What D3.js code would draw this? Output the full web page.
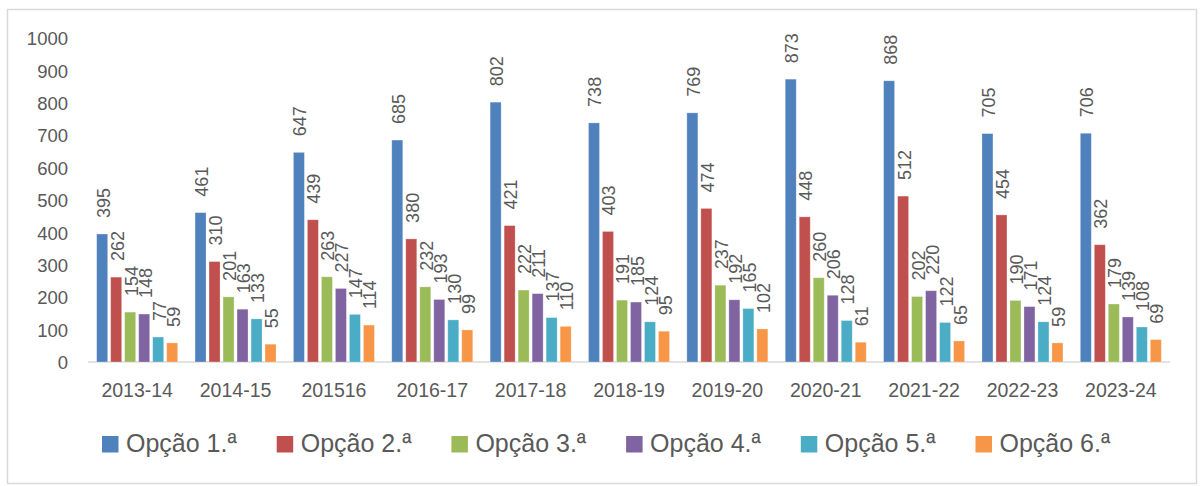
<!DOCTYPE html>
<html>
<head>
<meta charset="utf-8">
<script src="https://cdn.jsdelivr.net/npm/d3@7"></script>
<style>
  html, body { margin: 0; padding: 0; background: #fff; }
  svg { display: block; }
  text { font-family: "Liberation Sans", Arial, sans-serif; fill: #595959; }
</style>
</head>
<body>
<svg id="chart" width="1200" height="486"></svg>
<script>
const categories = ["2013-14", "2014-15", "201516", "2016-17", "2017-18", "2018-19", "2019-20", "2020-21", "2021-22", "2022-23", "2023-24"];
const seriesNames = ["Opção 1.ª", "Opção 2.ª", "Opção 3.ª", "Opção 4.ª", "Opção 5.ª", "Opção 6.ª"];
const opcao1 = [395, 461, 647, 685, 802, 738, 769, 873, 868, 705, 706];
const opcao2 = [262, 310, 439, 380, 421, 403, 474, 448, 512, 454, 362];
const opcao3 = [154, 201, 263, 232, 222, 191, 237, 260, 202, 190, 179];
const opcao4 = [148, 163, 227, 193, 211, 185, 192, 206, 220, 171, 139];
const opcao5 = [77, 133, 147, 130, 137, 124, 165, 128, 122, 124, 108];
const opcao6 = [59, 55, 114, 99, 110, 95, 102, 61, 65, 59, 69];
const yTicks = [0, 100, 200, 300, 400, 500, 600, 700, 800, 900, 1000];
const colors = ["#4F81BD", "#C0504D", "#9BBB59", "#8064A2", "#4BACC6", "#F79646"];

const seriesValues = [opcao1, opcao2, opcao3, opcao4, opcao5, opcao6];

const svg = d3.select("#chart");

// outer border
svg.append("rect")
  .attr("x", 7.5).attr("y", 9.5)
  .attr("width", 1189).attr("height", 474)
  .attr("fill", "#fff")
  .attr("stroke", "#D9D9D9").attr("stroke-width", 1.5);

const y = d3.scaleLinear().domain([0, 1000]).range([362, 38]);
const x0 = d3.scaleBand().domain(categories).range([88, 1170])
  .paddingInner(0.146).paddingOuter(0.073);
const x1 = d3.scaleBand().domain(seriesNames).range([0, x0.bandwidth()])
  .paddingInner(0.214).paddingOuter(0.107);
const color = d3.scaleOrdinal().domain(seriesNames).range(colors);

// y axis labels
const yAxis = d3.axisLeft(y).tickValues(yTicks).tickFormat(d3.format("d")).tickSize(0).tickPadding(0);
const gy = svg.append("g").attr("transform", "translate(68,0)").call(yAxis);
gy.select(".domain").remove();
gy.selectAll("text")
  .attr("font-size", 18.5)
  .attr("font-family", "Liberation Sans, Arial, sans-serif")
  .attr("fill", "#595959")
  .attr("dy", "0.36em");

// x axis
const xAxis = d3.axisBottom(x0).tickSize(0).tickPadding(0);
const gx = svg.append("g").attr("transform", "translate(0,362)").call(xAxis);
gx.select(".domain").attr("stroke", "#D9D9D9").attr("stroke-width", 1.5)
  .attr("d", "M88,0H1170");
gx.selectAll("text")
  .attr("font-size", 19.5)
  .attr("font-family", "Liberation Sans, Arial, sans-serif")
  .attr("fill", "#595959")
  .attr("y", 34.5).attr("dy", 0);

// bars
const data = categories.map((c, i) => ({
  cat: c,
  vals: seriesNames.map((s, j) => ({ s, v: seriesValues[j][i] }))
}));

const groups = svg.append("g").selectAll("g").data(data).join("g")
  .attr("transform", d => `translate(${x0(d.cat)},0)`);

groups.selectAll("rect").data(d => d.vals).join("rect")
  .attr("x", d => x1(d.s))
  .attr("y", d => y(d.v))
  .attr("width", x1.bandwidth())
  .attr("height", d => y(0) - y(d.v))
  .attr("fill", d => color(d.s))
  .attr("stroke", "#ffffff").attr("stroke-opacity", 0.35).attr("stroke-width", 0.8);

groups.selectAll("text.lbl").data(d => d.vals).join("text")
  .attr("class", "lbl")
  .attr("transform", d => `translate(${x1(d.s) + x1.bandwidth() / 2 + 7.5},${y(d.v) - 16}) rotate(-90)`)
  .attr("text-anchor", "start")
  .attr("font-size", 18)
  .attr("fill", "#404040")
  .text(d => d.v);

// legend
const lx = d3.scaleBand().domain(seriesNames).range([102, 102 + 6 * 174.7]);
const leg = svg.append("g").selectAll("g").data(seriesNames).join("g")
  .attr("transform", d => `translate(${lx(d)},0)`);
leg.append("rect")
  .attr("x", 0).attr("y", 436)
  .attr("width", 16.5).attr("height", 16.5)
  .attr("fill", d => color(d));
leg.append("text")
  .attr("x", 24).attr("y", 452)
  .attr("font-size", 25)
  .attr("fill", "#595959")
  .text(d => d);
</script>
</body>
</html>
